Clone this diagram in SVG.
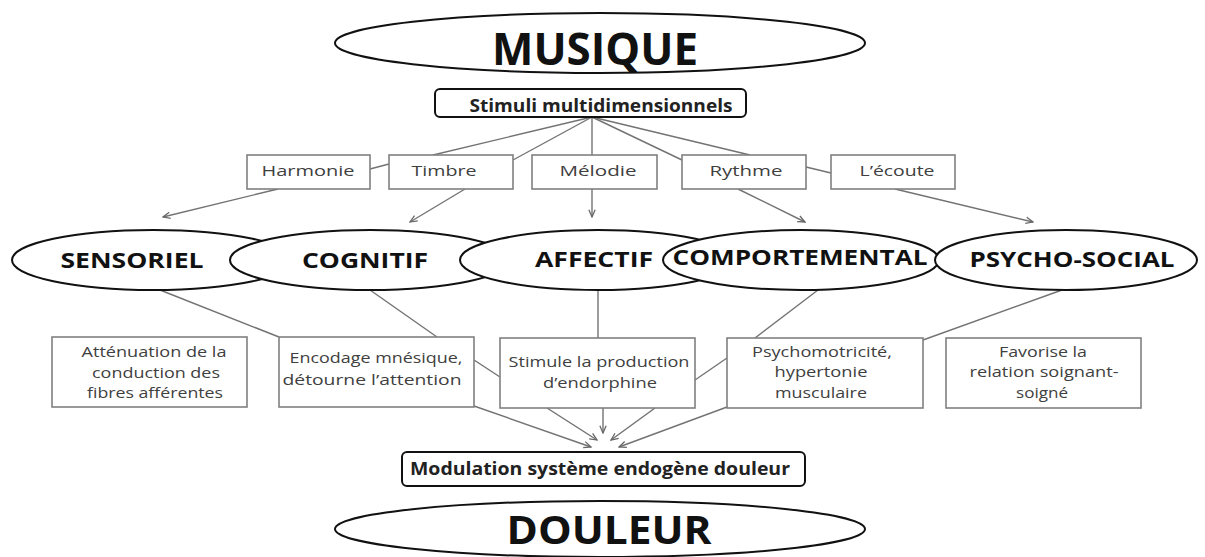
<svg xmlns="http://www.w3.org/2000/svg" width="1205" height="557" viewBox="0 0 1205 557">
<style>
.bg{fill:#fff}
.big{fill:#fff;stroke:#111;stroke-width:2}
.ell{fill:#fff;stroke:#111;stroke-width:2}
.hbox{fill:#fff;stroke:#111;stroke-width:2}
.box{fill:#fff;stroke:#808080;stroke-width:1.6}
.conn{stroke:#737373;stroke-width:1.4;fill:none}
.arr{marker-end:url(#arr)}
.t-big{font-family:"Open Sans","Liberation Sans",sans-serif;font-weight:700;fill:#111;text-anchor:middle}
.t-ell{font-family:"Open Sans","Liberation Sans",sans-serif;font-weight:700;font-size:21px;fill:#111;text-anchor:middle}
.t-h{font-family:"Open Sans","Liberation Sans",sans-serif;font-weight:700;font-size:17px;fill:#222;text-anchor:middle}
.t-box{font-family:"Open Sans","Liberation Sans",sans-serif;font-size:15px;fill:#404040;text-anchor:middle}
</style>
<defs>
<marker id="arr" viewBox="0 0 10 10" refX="9" refY="5" markerWidth="9" markerHeight="9" markerUnits="userSpaceOnUse" orient="auto">
<path d="M1,1.5 L9,5 L1,8.5" fill="none" stroke="#666" stroke-width="1.4"/>
</marker>
</defs>
<rect class="bg" x="0" y="0" width="1205" height="557"/>

<g id="connectors">
<line class="conn" x1="592" y1="117" x2="433" y2="155"/>
<line class="conn" x1="592" y1="117" x2="513" y2="160"/>
<line class="conn" x1="592" y1="117" x2="592" y2="155"/>
<line class="conn" x1="592" y1="117" x2="682" y2="160"/>
<line class="conn" x1="592" y1="117" x2="750" y2="155"/>
<line class="conn" x1="370" y1="169" x2="389" y2="164"/>
<line class="conn" x1="806" y1="167" x2="831" y2="173"/>
<line class="conn arr" x1="278" y1="189" x2="163" y2="217"/>
<line class="conn arr" x1="465" y1="189" x2="410" y2="222"/>
<line class="conn arr" x1="592" y1="189" x2="592" y2="217"/>
<line class="conn arr" x1="738" y1="189" x2="805" y2="222"/>
<line class="conn arr" x1="895" y1="189" x2="1033" y2="222"/>
<line class="conn" x1="160" y1="290" x2="279" y2="337"/>
<line class="conn" x1="370" y1="290" x2="437" y2="337"/>
<line class="conn" x1="598" y1="290" x2="598" y2="338"/>
<line class="conn" x1="818" y1="290" x2="755" y2="338"/>
<line class="conn" x1="1062" y1="290" x2="923" y2="340"/>
<line class="conn" x1="474" y1="360" x2="500" y2="377"/>
<line class="conn" x1="695" y1="380" x2="727" y2="358"/>
<line class="conn arr" x1="474" y1="406" x2="591" y2="447"/>
<line class="conn arr" x1="547" y1="408" x2="597" y2="440"/>
<line class="conn arr" x1="603" y1="408" x2="603" y2="433"/>
<line class="conn arr" x1="655" y1="408" x2="611" y2="440"/>
<line class="conn arr" x1="727" y1="407" x2="619" y2="447"/>
</g>

<g id="musique">
<ellipse class="big" cx="600" cy="43" rx="265" ry="30"/>
<text class="t-big" x="595" y="65" font-size="44" textLength="206" lengthAdjust="spacingAndGlyphs">MUSIQUE</text>
</g>
<g id="stimuli">
<rect class="hbox" x="435" y="89" width="311" height="28" rx="5"/>
<text class="t-h" x="601" y="112" textLength="263" lengthAdjust="spacingAndGlyphs">Stimuli multidimensionnels</text>
</g>

<g id="harmonie">
<rect class="box" x="247" y="155" width="123" height="34"/>
<text class="t-box" x="308" y="176" font-size="16" textLength="93" lengthAdjust="spacingAndGlyphs">Harmonie</text>
</g>
<g id="timbre">
<rect class="box" x="389" y="155" width="124" height="34"/>
<text class="t-box" x="444" y="176" font-size="16" textLength="65" lengthAdjust="spacingAndGlyphs">Timbre</text>
</g>
<g id="melodie">
<rect class="box" x="532" y="155" width="125" height="34"/>
<text class="t-box" x="598" y="176" font-size="16" textLength="77" lengthAdjust="spacingAndGlyphs">Mélodie</text>
</g>
<g id="rythme">
<rect class="box" x="682" y="155" width="124" height="34"/>
<text class="t-box" x="746" y="176" font-size="16" textLength="73" lengthAdjust="spacingAndGlyphs">Rythme</text>
</g>
<g id="ecoute">
<rect class="box" x="831" y="155" width="124" height="34"/>
<text class="t-box" x="897" y="176" font-size="16" textLength="75" lengthAdjust="spacingAndGlyphs">L’écoute</text>
</g>

<g id="sensoriel">
<ellipse class="ell" cx="153" cy="260" rx="141" ry="30"/>
<text class="t-ell" x="132" y="268" textLength="143" lengthAdjust="spacingAndGlyphs">SENSORIEL</text>
</g>
<g id="cognitif">
<ellipse class="ell" cx="370" cy="260" rx="140" ry="30"/>
<text class="t-ell" x="365" y="268" textLength="126" lengthAdjust="spacingAndGlyphs">COGNITIF</text>
</g>
<g id="affectif">
<ellipse class="ell" cx="598" cy="260" rx="138" ry="30"/>
<text class="t-ell" x="594" y="267" textLength="118" lengthAdjust="spacingAndGlyphs">AFFECTIF</text>
</g>
<g id="comportemental">
<ellipse class="ell" cx="801" cy="260" rx="138" ry="30" stroke-width="2.6"/>
<text class="t-ell" x="800" y="265" textLength="255" lengthAdjust="spacingAndGlyphs">COMPORTEMENTAL</text>
</g>
<g id="psychosocial">
<ellipse class="ell" cx="1066" cy="260" rx="131" ry="30"/>
<text class="t-ell" x="1072" y="267" textLength="205" lengthAdjust="spacingAndGlyphs">PSYCHO-SOCIAL</text>
</g>

<g id="attenuation">
<rect class="box" x="52" y="337" width="195" height="70"/>
<text class="t-box" x="154" y="357" textLength="145" lengthAdjust="spacingAndGlyphs">Atténuation de la</text>
<text class="t-box" x="156" y="378" textLength="128" lengthAdjust="spacingAndGlyphs">conduction des</text>
<text class="t-box" x="155" y="398" textLength="136" lengthAdjust="spacingAndGlyphs">fibres afférentes</text>
</g>
<g id="encodage">
<rect class="box" x="279" y="337" width="195" height="70"/>
<text class="t-box" x="376" y="363" textLength="173" lengthAdjust="spacingAndGlyphs">Encodage mnésique,</text>
<text class="t-box" x="372" y="385" textLength="179" lengthAdjust="spacingAndGlyphs">détourne l’attention</text>
</g>
<g id="stimule">
<rect class="box" x="500" y="338" width="195" height="70"/>
<text class="t-box" x="599" y="367" textLength="181" lengthAdjust="spacingAndGlyphs">Stimule la production</text>
<text class="t-box" x="600" y="388" textLength="114" lengthAdjust="spacingAndGlyphs">d’endorphine</text>
</g>
<g id="psychomotricite">
<rect class="box" x="727" y="338" width="196" height="70"/>
<text class="t-box" x="822" y="357" textLength="140" lengthAdjust="spacingAndGlyphs">Psychomotricité,</text>
<text class="t-box" x="821" y="377" textLength="93" lengthAdjust="spacingAndGlyphs">hypertonie</text>
<text class="t-box" x="821" y="398" textLength="92" lengthAdjust="spacingAndGlyphs">musculaire</text>
</g>
<g id="favorise">
<rect class="box" x="946" y="338" width="195" height="70"/>
<text class="t-box" x="1043" y="357" textLength="88" lengthAdjust="spacingAndGlyphs">Favorise la</text>
<text class="t-box" x="1044" y="377" textLength="149" lengthAdjust="spacingAndGlyphs">relation soignant-</text>
<text class="t-box" x="1042" y="398" textLength="52" lengthAdjust="spacingAndGlyphs">soigné</text>
</g>

<g id="modulation">
<rect class="hbox" x="402" y="452" width="403" height="34" rx="5"/>
<text class="t-h" x="600" y="475" font-size="19" textLength="380" lengthAdjust="spacingAndGlyphs">Modulation système endogène douleur</text>
</g>
<g id="douleur">
<ellipse class="big" cx="600" cy="529" rx="265" ry="28"/>
<text class="t-big" x="609" y="544" font-size="40" textLength="205" lengthAdjust="spacingAndGlyphs">DOULEUR</text>
</g>
</svg>
